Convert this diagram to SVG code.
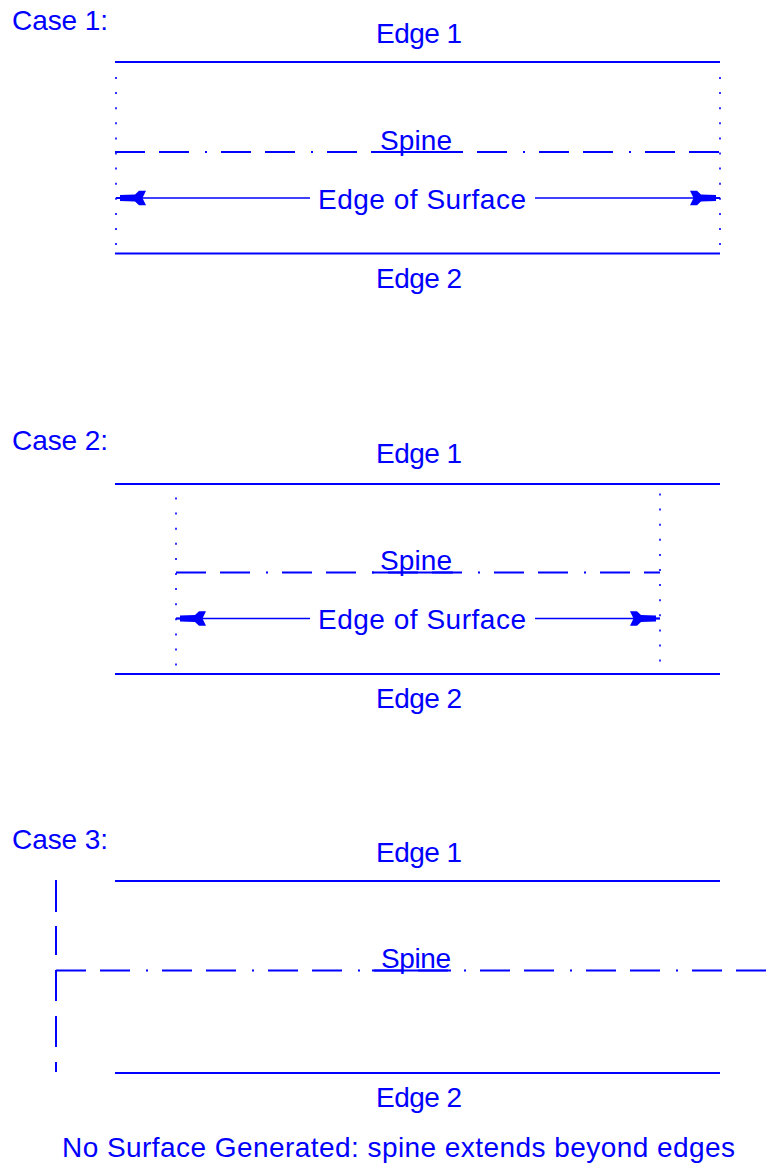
<svg xmlns="http://www.w3.org/2000/svg" xmlns:xlink="http://www.w3.org/1999/xlink" width="777" height="1167" viewBox="0 0 777 1167">
  <style>
    .edge{stroke:#0000ff;stroke-width:2;fill:none}
    .dots{stroke:#0000ff;stroke-width:2;stroke-dasharray:2 13.1;fill:none;opacity:0.8}
    .spine{stroke:#0000ff;stroke-width:2;stroke-dasharray:30 14 30 16 2 14;fill:none}
    .solid{stroke:#0000ff;stroke-width:2;fill:none}
    .dim{stroke:#0000ff;stroke-width:1.5;fill:none}
    .head{fill:#0000ff;stroke:none}
    .lbl{font-family:"Liberation Sans",Arial,sans-serif;font-size:28px;fill:#0000ff}
  </style>
  <defs>
    <!-- dimension arrowhead, tip at origin, pointing left -->
    <path id="ah" d="M0,-1 H4 V-3 L19,-3.6 L23,-7.2 L30,-7.2 L26.5,0 L30,7.2 L23,7.2 L19,3.6 L4,3 V1 H0 Z"/>
  </defs>
  <rect width="777" height="1167" fill="#ffffff"/>

  <!-- Case 1: spine ends on the surface boundary -->
  <g id="case1">
    <text class="lbl" x="12" y="29.5" textLength="96">Case 1:</text>
    <line class="edge" x1="115" y1="62" x2="720" y2="62"/>
    <text class="lbl" x="376" y="43" textLength="86">Edge 1</text>
    <line class="dots" x1="116" y1="77" x2="116" y2="246"/>
    <line class="dots" x1="720" y1="77" x2="720" y2="246"/>
    <line class="spine" x1="115" y1="152" x2="720" y2="152"/>
    <line class="solid" x1="372" y1="152" x2="453" y2="152"/>
    <text class="lbl" x="380" y="149.5" textLength="72">Spine</text>
    <text class="lbl" x="318" y="208.5" textLength="208">Edge of Surface</text>
    <line class="edge" x1="115" y1="253.5" x2="720" y2="253.5"/>
    <text class="lbl" x="376" y="287.5" textLength="86">Edge 2</text>
  </g>

  <!-- Case 2: spine shorter than the edges -->
  <g id="case2">
    <text class="lbl" x="12" y="449.5" textLength="96">Case 2:</text>
    <line class="edge" x1="115" y1="484" x2="720" y2="484"/>
    <text class="lbl" x="376" y="463" textLength="86">Edge 1</text>
    <line class="dots" x1="176" y1="497.5" x2="176" y2="666"/>
    <line class="dots" x1="660" y1="493.5" x2="660" y2="662"/>
    <line class="spine" x1="176" y1="572.5" x2="660" y2="572.5"/>
    <line class="solid" x1="372" y1="572.5" x2="453" y2="572.5"/>
    <text class="lbl" x="380" y="570" textLength="72">Spine</text>
    <text class="lbl" x="318" y="629" textLength="208">Edge of Surface</text>
    <line class="edge" x1="115" y1="674" x2="720" y2="674"/>
    <text class="lbl" x="376" y="707.5" textLength="86">Edge 2</text>
  </g>

  <!-- Case 3: spine longer than the edges -->
  <g id="case3">
    <text class="lbl" x="12" y="848.5" textLength="96">Case 3:</text>
    <line class="edge" x1="115" y1="881" x2="720" y2="881"/>
    <text class="lbl" x="376" y="862" textLength="86">Edge 1</text>
    <path class="solid" d="M56,880 V912 M56,926 V955 M56,970 V1001 M56,1016 V1047 M56,1062 V1072"/>
    <line class="spine" x1="56" y1="970.5" x2="766" y2="970.5"/>
    <line class="solid" x1="372" y1="970.5" x2="451" y2="970.5"/>
    <text class="lbl" x="381" y="968" textLength="70">Spine</text>
    <line class="edge" x1="115" y1="1073" x2="720" y2="1073"/>
    <text class="lbl" x="376" y="1106.5" textLength="86">Edge 2</text>
    <text class="lbl" x="62" y="1157" textLength="673">No Surface Generated: spine extends beyond edges</text>
  </g>

  <!-- dimension connectors -->
  <g id="connectors">
    <line class="dim" x1="116" y1="198" x2="310" y2="198"/>
    <line class="dim" x1="535" y1="198" x2="720" y2="198"/>
    <use xlink:href="#ah" class="head" transform="translate(116,198)"/>
    <use xlink:href="#ah" class="head" transform="translate(720,198) scale(-1,1)"/>
    <line class="dim" x1="176" y1="618.5" x2="310" y2="618.5"/>
    <line class="dim" x1="535" y1="618.5" x2="660" y2="618.5"/>
    <use xlink:href="#ah" class="head" transform="translate(176,618.5)"/>
    <use xlink:href="#ah" class="head" transform="translate(660,618.5) scale(-1,1)"/>
  </g>
</svg>
